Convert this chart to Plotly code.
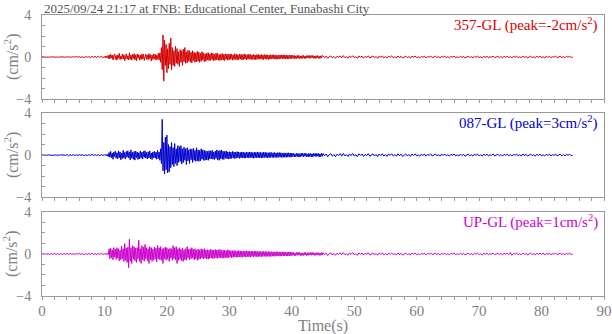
import numpy as np
import plotly.graph_objects as go

# ---------------- data ----------------
# each record: quiet lead-in 0-10 s (0.25 s steps), strong motion 10-45 s (0.125 s steps),
# coda 45-85 s (0.25 s steps); values in cm/s^2
title_text = "2025/09/24 21:17 at FNB: Educational Center, Funabashi City"
names = ["357-GL", "087-GL", "UP-GL"]
peaks = ["-2", "3", "1"]
colors = ["#d40000", "#0000cc", "#cc00cc"]
seg_start = [0.0, 10.0, 45.0]
seg_step = [0.25, 0.125, 0.25]

ns_pre = [
    0.02,-0.01,0.03,-0.02, 0.01,-0.03,0.02,-0.01, 0.03,-0.02,0.01,-0.03, 0.02,-0.01,0.03,-0.02, 0.03,-0.02,0.01,-0.02,
    0.04,-0.02,0.05,-0.03, 0.04,-0.05,0.02,-0.05, 0.05,-0.03,0.04,-0.06, 0.06,-0.04,0.07,-0.05, 0.08,-0.05,0.09,-0.07,
]
ns_main = [
    0.05,-0.08,0.10,-0.06,0.12,-0.15,0.20,-0.18,  0.25,-0.10,0.18,-0.28,0.12,0.30,-0.22,0.15,
    -0.30,0.20,-0.12,0.35,-0.25,0.10,-0.20,0.28,  -0.18,0.22,-0.35,0.15,0.30,-0.20,0.12,-0.28,
    0.40,-0.22,0.18,-0.30,0.25,-0.15,0.32,-0.26,  0.20,-0.35,0.28,-0.12,0.22,-0.30,0.18,-0.24,
    0.30,-0.18,0.26,-0.32,0.14,0.28,-0.22,0.20,   -0.26,0.32,-0.15,0.22,-0.38,0.18,-0.24,0.30,
    -0.20,0.26,-0.30,0.18,-0.22,0.35,-0.28,0.40,  -0.50,0.90,-1.20,2.10,-2.30,1.60,-0.80,1.20,
    -1.50,0.80,-1.10,1.30,-0.70,1.80,-1.20,0.90,  -0.80,0.60,-0.90,1.00,-0.60,0.80,-0.70,0.50,
    -0.90,0.70,-0.50,0.60,-0.80,0.75,-0.45,0.90,  -0.60,0.50,-0.55,0.65,-0.40,0.60,-0.50,0.45,
    -0.55,0.60,-0.35,0.45,-0.50,0.40,-0.45,0.55,  -0.40,0.45,-0.50,0.35,-0.40,0.50,-0.30,0.40,
    -0.45,0.30,-0.40,0.38,-0.28,0.42,-0.35,0.30,  -0.32,0.40,-0.25,0.35,-0.38,0.28,-0.30,0.36,
    -0.28,0.35,-0.30,0.22,-0.34,0.30,-0.26,0.32,  -0.30,0.26,-0.34,0.30,-0.22,0.28,-0.30,0.25,
    -0.26,0.30,-0.22,0.28,-0.30,0.20,-0.26,0.32,  -0.22,0.25,-0.30,0.22,-0.24,0.28,-0.20,0.26,
    -0.28,0.22,-0.25,0.30,-0.20,0.24,-0.27,0.22,  -0.22,0.28,-0.20,0.24,-0.26,0.20,-0.22,0.25,
    -0.24,0.20,-0.26,0.22,-0.20,0.25,-0.22,0.20,  -0.20,0.24,-0.22,0.20,-0.25,0.22,-0.18,0.23,
    -0.22,0.20,-0.24,0.18,-0.20,0.22,-0.19,0.21,  -0.18,0.22,-0.20,0.19,-0.22,0.18,-0.20,0.20,
    -0.20,0.18,-0.16,0.21,-0.18,0.20,-0.17,0.19,  -0.17,0.19,-0.20,0.16,-0.18,0.19,-0.16,0.18,
    -0.15,0.17,-0.12,0.16,-0.17,0.11,-0.15,0.16,  -0.13,0.15,-0.16,0.10,-0.15,0.14,-0.12,0.15,
    -0.14,0.10,-0.15,0.13,-0.09,0.15,-0.12,0.14,  -0.12,0.14,-0.08,0.15,-0.13,0.10,-0.14,0.12,
    -0.11,0.14,-0.12,0.08,-0.14,0.12,-0.10,0.13,
]
ns_coda = [
    0.12,-0.05,0.08,-0.13, 0.03,0.10,-0.09,0.05, -0.12,0.07,-0.03,0.11, -0.08,0.13,-0.06,0.02, -0.11,0.09,-0.04,0.12,
    -0.07,0.03,-0.12,0.10, -0.02,0.08,-0.11,0.06, -0.04,0.12,-0.09,0.02, 0.10,-0.07,0.05,-0.12, 0.09,-0.03,0.11,-0.08,
    0.04,-0.10,0.08,-0.02, 0.11,-0.07,0.03,-0.09, 0.10,-0.05,0.07,-0.11, 0.02,0.09,-0.06,0.04, -0.10,0.08,-0.03,0.10,
    -0.06,0.02,-0.09,0.07, -0.03,0.08,-0.08,0.04, -0.02,0.09,-0.07,0.03, 0.08,-0.05,0.04,-0.09, 0.07,-0.02,0.08,-0.06,
    0.03,-0.08,0.06,-0.02, 0.09,-0.06,0.02,-0.07, 0.08,-0.04,0.06,-0.09, 0.02,0.07,-0.05,0.03, -0.08,0.06,-0.02,0.08,
    -0.05,0.02,-0.08,0.06, -0.03,0.07,-0.07,0.03, -0.02,0.09,-0.06,0.02, 0.07,-0.05,0.04,-0.08, 0.06,-0.02,0.07,-0.05,
    0.03,-0.07,0.05,-0.02, 0.08,-0.06,0.02,-0.07, 0.09,-0.04,0.05,-0.08, 0.02,0.07,-0.05,0.03, -0.08,0.06,-0.02,0.07,
    -0.05,0.02,-0.07,0.06, -0.03,0.07,-0.06,0.03, -0.02,0.08,-0.06,0.02, 0.07,-0.05,0.04,-0.07, 0.06,-0.02,0.07,-0.05,
    0.0,
]

ew_pre = [
    0.02,-0.01,0.03,-0.02, 0.02,-0.02,0.01,-0.03, 0.02,-0.03,0.01,-0.02, 0.03,-0.01,0.02,-0.03, 0.05,-0.06,0.03,-0.04,
    0.04,-0.03,0.02,-0.04, 0.04,-0.02,0.03,-0.05, 0.03,-0.05,0.04,-0.03, 0.05,-0.03,0.04,-0.05, 0.04,-0.06,0.05,-0.04,
]
ew_main = [
    0.04,-0.05,0.06,-0.05,0.08,-0.15,0.25,-0.20,  0.35,-0.25,0.18,-0.40,0.30,-0.15,0.38,-0.30,
    0.22,-0.35,0.40,-0.25,0.30,-0.45,0.20,-0.32,  0.45,-0.30,0.25,-0.38,0.35,-0.20,0.42,-0.28,
    0.30,-0.45,0.50,-0.30,0.25,-0.40,0.35,-0.48,  0.38,-0.25,0.30,-0.42,0.22,-0.35,0.40,-0.30,
    0.28,-0.38,0.35,-0.22,0.42,-0.30,0.25,-0.36,  0.32,-0.28,0.40,-0.35,0.20,-0.42,0.30,-0.25,
    0.36,-0.30,0.28,-0.40,0.45,-0.32,0.30,-0.50,  0.60,-0.80,3.40,-1.50,1.20,-1.80,1.70,-1.40,
    1.90,-1.70,1.00,-1.60,0.80,-1.20,1.20,-0.90,  0.70,-1.10,1.10,-0.80,0.60,-1.00,0.90,-0.70,
    0.80,-0.60,0.90,-0.85,0.60,-0.70,0.75,-0.50,  0.60,-0.90,0.70,-0.55,0.50,-0.80,0.60,-0.45,
    0.55,-0.70,0.65,-0.50,0.45,-0.60,0.70,-0.55,  0.50,-0.60,0.45,-0.55,0.60,-0.40,0.50,-0.50,
    0.45,-0.50,0.40,-0.45,0.35,-0.50,0.42,-0.38,  0.40,-0.35,0.45,-0.40,0.30,-0.42,0.38,-0.32,
    0.50,-0.45,0.40,-0.50,0.45,-0.35,0.48,-0.40,  0.38,-0.42,0.35,-0.30,0.40,-0.36,0.30,-0.38,
    0.32,-0.35,0.28,-0.32,0.35,-0.28,0.30,-0.34,  0.28,-0.30,0.32,-0.26,0.30,-0.32,0.25,-0.28,
    0.30,-0.26,0.28,-0.30,0.24,-0.28,0.30,-0.25,  0.26,-0.28,0.30,-0.24,0.28,-0.26,0.24,-0.30,
    0.28,-0.25,0.26,-0.28,0.30,-0.24,0.26,-0.27,  0.25,-0.28,0.24,-0.26,0.28,-0.22,0.26,-0.25,
    0.24,-0.26,0.22,-0.25,0.26,-0.22,0.24,-0.23,  0.22,-0.24,0.25,-0.22,0.20,-0.24,0.23,-0.21,
    0.24,-0.20,0.22,-0.23,0.20,-0.22,0.21,-0.20,  0.20,-0.22,0.21,-0.19,0.22,-0.20,0.19,-0.21,
    0.18,-0.14,0.19,-0.17,0.12,-0.18,0.17,-0.15,  0.16,-0.19,0.13,-0.17,0.18,-0.12,0.17,-0.16,
    0.17,-0.12,0.18,-0.15,0.11,-0.18,0.16,-0.13,  0.15,-0.17,0.12,-0.16,0.17,-0.10,0.16,-0.15,
    0.16,-0.11,0.15,-0.17,0.12,-0.14,0.16,-0.12,
]
ew_coda = [
    0.15,-0.07,0.10,-0.16, 0.04,0.13,-0.11,0.06, -0.15,0.09,-0.04,0.14, -0.10,0.16,-0.07,0.03, -0.14,0.11,-0.05,0.15,
    -0.09,0.04,-0.14,0.12, -0.03,0.10,-0.13,0.07, -0.05,0.14,-0.11,0.03, 0.12,-0.09,0.06,-0.14, 0.11,-0.04,0.13,-0.10,
    0.05,-0.12,0.10,-0.03, 0.13,-0.09,0.04,-0.11, 0.12,-0.06,0.09,-0.13, 0.03,0.11,-0.08,0.05, -0.12,0.10,-0.04,0.12,
    -0.08,0.03,-0.11,0.09, -0.04,0.10,-0.10,0.05, -0.03,0.11,-0.09,0.04, 0.10,-0.07,0.05,-0.11, 0.09,-0.03,0.10,-0.08,
    0.04,-0.10,0.08,-0.03, 0.11,-0.08,0.03,-0.09, 0.10,-0.05,0.08,-0.11, 0.03,0.09,-0.07,0.04, -0.10,0.08,-0.03,0.10,
    -0.07,0.03,-0.10,0.08, -0.04,0.09,-0.09,0.04, -0.03,0.11,-0.08,0.03, 0.09,-0.07,0.05,-0.10, 0.08,-0.03,0.09,-0.07,
    0.04,-0.09,0.07,-0.03, 0.10,-0.08,0.03,-0.09, 0.11,-0.05,0.07,-0.10, 0.03,0.09,-0.07,0.04, -0.10,0.08,-0.03,0.09,
    -0.07,0.03,-0.09,0.08, -0.04,0.09,-0.08,0.04, -0.03,0.10,-0.08,0.03, 0.09,-0.07,0.05,-0.09, 0.08,-0.03,0.09,-0.07,
    0.0,
]

ud_pre = [
    0.03,-0.02,0.04,-0.03, 0.02,-0.04,0.03,-0.02, 0.04,-0.03,0.02,-0.04, 0.03,-0.04,0.04,-0.02, 0.04,-0.03,0.05,-0.04,
    0.03,-0.05,0.04,-0.03, 0.06,-0.04,0.03,-0.05, 0.04,-0.05,0.05,-0.03, 0.05,-0.04,0.03,-0.05, 0.05,-0.04,0.04,-0.05,
]
ud_main = [
    0.05,-0.04,0.06,-0.05,0.05,-0.06,0.50,-0.45,  0.55,-0.35,0.40,-0.55,0.60,-0.30,0.45,-0.50,
    0.60,-0.40,0.50,-0.65,0.35,-0.55,0.75,-0.45,  0.50,-0.70,1.00,-0.60,0.55,-0.80,0.65,-1.30,
    1.40,-0.70,0.60,-0.90,0.80,-0.50,0.70,-0.65,  0.55,-0.80,0.60,-0.45,1.30,-0.70,0.50,-0.90,
    0.80,-0.55,0.65,-0.70,0.90,-0.45,0.60,-0.65,  0.50,-0.90,0.70,-0.55,0.60,-0.70,0.45,-0.60,
    0.65,-0.50,0.55,-0.75,0.80,-0.45,0.60,-0.55,  0.70,-0.60,0.50,-0.90,0.55,-0.45,0.65,-0.60,
    0.60,-0.50,0.45,-0.70,0.55,-0.40,0.50,-0.60,  0.80,-0.45,0.60,-0.55,0.70,-0.90,0.50,-0.60,
    0.60,-0.50,0.45,-0.65,0.55,-0.70,0.40,-0.55,  0.50,-0.60,0.70,-0.40,0.45,-0.55,0.50,-0.45,
    0.60,-0.40,0.45,-0.55,0.50,-0.45,0.40,-0.60,  0.45,-0.50,0.40,-0.45,0.50,-0.38,0.42,-0.48,
    0.50,-0.40,0.38,-0.48,0.42,-0.50,0.36,-0.42,  0.45,-0.38,0.40,-0.44,0.36,-0.40,0.42,-0.36,
    0.38,-0.42,0.40,-0.35,0.44,-0.38,0.34,-0.40,  0.36,-0.40,0.38,-0.34,0.32,-0.38,0.40,-0.35,
    0.34,-0.30,0.32,-0.36,0.30,-0.32,0.35,-0.28,  0.30,-0.32,0.28,-0.30,0.33,-0.27,0.30,-0.31,
    0.28,-0.30,0.30,-0.26,0.27,-0.29,0.31,-0.26,  0.27,-0.28,0.25,-0.29,0.28,-0.24,0.26,-0.27,
    0.26,-0.24,0.28,-0.25,0.24,-0.27,0.25,-0.23,  0.24,-0.26,0.23,-0.24,0.26,-0.22,0.24,-0.25,
    0.23,-0.22,0.24,-0.23,0.21,-0.24,0.22,-0.21,  0.22,-0.21,0.20,-0.22,0.21,-0.20,0.22,-0.20,
    0.20,-0.21,0.19,-0.20,0.21,-0.19,0.20,-0.19,  0.19,-0.20,0.18,-0.19,0.20,-0.18,0.19,-0.18,
    0.17,-0.12,0.16,-0.17,0.10,-0.16,0.15,-0.13,  0.16,-0.11,0.15,-0.16,0.12,-0.15,0.10,-0.14,
    0.15,-0.10,0.14,-0.15,0.11,-0.14,0.13,-0.10,  0.14,-0.12,0.15,-0.09,0.13,-0.14,0.10,-0.13,
    0.14,-0.09,0.12,-0.14,0.10,-0.12,0.13,-0.11,
]
ud_coda = [
    0.13,-0.06,0.09,-0.14, 0.03,0.11,-0.10,0.05, -0.13,0.08,-0.04,0.12, -0.09,0.14,-0.06,0.02, -0.12,0.10,-0.04,0.13,
    -0.08,0.03,-0.12,0.10, -0.03,0.09,-0.11,0.06, -0.04,0.12,-0.10,0.03, 0.10,-0.08,0.05,-0.12, 0.09,-0.03,0.11,-0.09,
    0.04,-0.10,0.08,-0.03, 0.11,-0.07,0.03,-0.09, 0.10,-0.05,0.07,-0.11, 0.02,0.09,-0.06,0.04, -0.10,0.08,-0.03,0.10,
    -0.06,0.02,-0.09,0.07, -0.03,0.08,-0.08,0.04, -0.02,0.09,-0.07,0.03, 0.08,-0.05,0.04,-0.09, 0.07,-0.02,0.08,-0.06,
    0.03,-0.08,0.06,-0.02, 0.09,-0.06,0.02,-0.07, 0.08,-0.04,0.06,-0.09, 0.02,0.07,-0.05,0.03, -0.08,0.06,-0.02,0.08,
    -0.05,0.02,-0.08,0.06, -0.03,0.07,-0.07,0.03, -0.02,0.09,-0.06,0.02, 0.07,-0.05,0.04,-0.08, 0.06,-0.02,0.07,-0.05,
    0.14,-0.12,0.05,-0.02, 0.08,-0.06,0.02,-0.07, 0.09,-0.04,0.05,-0.08, 0.02,0.07,-0.05,0.03, -0.08,0.06,-0.02,0.07,
    -0.05,0.10,-0.09,0.06, -0.03,0.07,-0.06,0.03, -0.02,0.08,-0.06,0.02, 0.07,-0.05,0.04,-0.07, 0.06,-0.02,0.07,-0.05,
    0.0,
]

records = [[ns_pre, ns_main, ns_coda], [ew_pre, ew_main, ew_coda], [ud_pre, ud_main, ud_coda]]
x_ticks = [0, 10, 20, 30, 40, 50, 60, 70, 80, 90]
y_ticks = [-4, 0, 4]
x_title = "Time(s)"
y_title = "(cm/s<sup>2</sup>)"

# ---------------- figure ----------------
FONT = "Liberation Serif, Times New Roman, serif"
GREY = "#808080"
LINE = "#999999"

fig = go.Figure()
domains = [[0.701, 1.0], [0.352, 0.651], [0.0, 0.299]]

for i, segs in enumerate(records):
    n = i + 1
    sfx = str(n) if n > 1 else ""
    t = np.concatenate([s0 + np.arange(len(seg)) * st for seg, s0, st in zip(segs, seg_start, seg_step)])
    y = np.concatenate([np.asarray(seg, dtype=float) for seg in segs])
    fig.add_trace(go.Scatter(
        x=t, y=y, mode="lines",
        line=dict(color=colors[i], width=1),
        xaxis="x" + sfx, yaxis="y" + sfx,
        showlegend=False, hoverinfo="skip",
    ))
    xa = dict(
        range=[0, 90], domain=[0, 1], anchor="y" + sfx, automargin=False,
        showline=True, mirror=True, linecolor=LINE, linewidth=1,
        showgrid=False, zeroline=False,
        tickvals=x_ticks, ticks="outside", ticklen=3, tickcolor=LINE, tickwidth=1,
        minor=dict(dtick=2, ticks="outside", ticklen=3, tickcolor=LINE, tickwidth=1, showgrid=False),
        showticklabels=(n == 3),
        tickfont=dict(family=FONT, size=15, color=GREY),
        ticklabelstandoff=-2,
    )
    if n != 3:
        xa["matches"] = "x3"
    ya = dict(
        range=[-4, 4], domain=domains[i], anchor="x" + sfx, automargin=False,
        showline=True, mirror=True, linecolor=LINE, linewidth=1,
        showgrid=False, zeroline=False,
        tickvals=y_ticks, ticks="inside", ticklen=3, tickcolor=LINE, tickwidth=1,
        minor=dict(dtick=1, ticks="inside", ticklen=3, tickcolor=LINE, tickwidth=1, showgrid=False),
        tickfont=dict(family=FONT, size=14, color=GREY),
        ticklabelstandoff=7,
    )
    fig.layout["xaxis" + sfx] = xa
    fig.layout["yaxis" + sfx] = ya
    # y-axis title, rotated, left of the tick labels
    fig.add_annotation(
        x=0, y=0.5, xref="paper", yref="y" + sfx + " domain",
        xanchor="center", yanchor="middle", xshift=-31, showarrow=False,
        textangle=-90, text=y_title,
        font=dict(family=FONT, size=16, color=GREY),
    )
    fig.add_annotation(
        x=1, y=1, xref="x" + sfx + " domain", yref="y" + sfx + " domain",
        xanchor="right", yanchor="top", xshift=-4, yshift=2, showarrow=False,
        text=f"{names[i]} (peak={peaks[i]}cm/s<sup>2</sup>)",
        font=dict(family=FONT, size=15, color=colors[i]),
    )

fig.add_annotation(
    x=0.5, y=0, xref="paper", yref="paper", xanchor="center", yanchor="middle",
    yshift=-30, showarrow=False, text=x_title,
    font=dict(family=FONT, size=16, color=GREY),
)
fig.add_annotation(
    x=0, y=1, xref="paper", yref="paper", xanchor="left", yanchor="bottom",
    yshift=-3, showarrow=False, text=title_text,
    font=dict(family=FONT, size=13, color="#555555"),
)

fig.update_layout(
    width=612, height=334,
    margin=dict(l=42, r=8, t=15, b=38, autoexpand=False),
    paper_bgcolor="white", plot_bgcolor="white",
)

fig.write_html("out.html")
